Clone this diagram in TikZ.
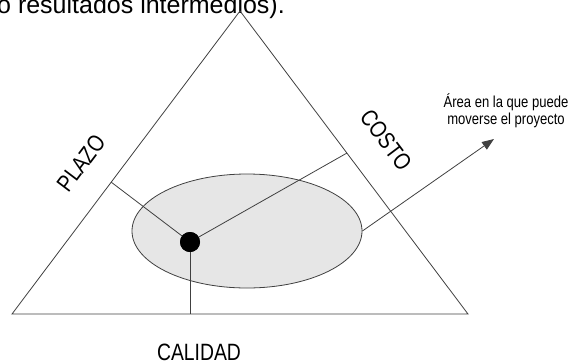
\documentclass[tikz,border=0pt]{standalone}
\usepackage{fontspec}
\setmainfont{Liberation Sans}
\newfontfamily\narrowfont[FakeStretch=0.82]{Liberation Sans}
\usetikzlibrary{arrows.meta,shapes.geometric}
\definecolor{linegray}{HTML}{404040}
\definecolor{areafill}{HTML}{E6E6E6}
\tikzset{
  edge/.style={draw=linegray, line width=0.8pt},
  biglabel/.style={font=\narrowfont\fontsize{23.6}{26}\selectfont, text=black, inner sep=0},
  smalllabel/.style={font=\narrowfont\fontsize{15.9}{17}\selectfont, text=black, align=center, inner sep=0}
}
\begin{document}
\begin{tikzpicture}[x=1pt,y=-1pt]
\useasboundingbox (0,0) rectangle (570,362);
\clip (0,0) rectangle (570,362);
\node[anchor=base west, font=\fontsize{25}{30}\selectfont, inner sep=0] (toptext) at (-3,13) {o resultados intermedios).};
\coordinate (A) at (240,11);
\coordinate (B) at (12,314);
\coordinate (C) at (468,314);
\draw[edge, line join=miter] (A) -- (B) -- (C) -- cycle;
\node[ellipse, draw=linegray, fill=areafill, line width=0.8pt, minimum width=230, minimum height=114, inner sep=0] (area) at (247,231) {};
\coordinate (fl) at (111,182);
\coordinate (fr) at (347,153);
\coordinate (fb) at (190,314);
\node[circle, fill=black, minimum size=20, inner sep=0] (dot) at (190,242) {};
\draw[edge] (dot.center) -- (fl);
\draw[edge] (dot.center) -- (fr);
\draw[edge] (dot.center) -- (fb);
\node[circle, fill=black, minimum size=20, inner sep=0] at (dot.center) {};
\coordinate (tip) at (494,139);
\draw[edge, -{Triangle[length=12pt,width=9pt]}] (area.east) -- (tip);
\node[smalllabel] (lbl) at (506,111) {Área en la que puede\\moverse el proyecto};
\node[biglabel, rotate=53] (plazo) at (81,163) {PLAZO};
\node[biglabel, rotate=-53] (costo) at (386,140) {COSTO};
\node[biglabel] (calidad) at (199,352) {CALIDAD};
\end{tikzpicture}
\end{document}
